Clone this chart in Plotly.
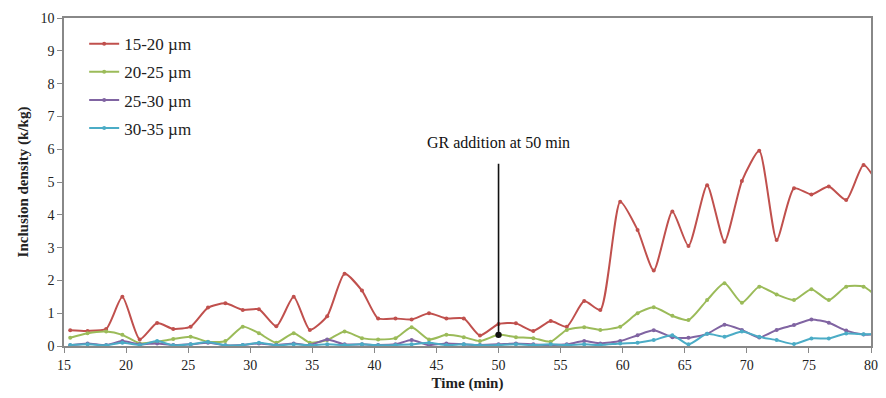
import plotly.graph_objects as go

time_min = [15.5, 16.9, 18.4, 19.7, 21.1, 22.5, 23.8, 25.2, 26.6, 28.0, 29.4, 30.7,
            32.1, 33.5, 34.8, 36.2, 37.6, 39.0, 40.3, 41.7, 43.0, 44.4, 45.8, 47.2,
            48.5, 50.0, 51.4, 52.8, 54.2, 55.5, 56.9, 58.2, 59.8, 61.2, 62.5, 64.0,
            65.3, 66.8, 68.2, 69.6, 71.0, 72.4, 73.8, 75.2, 76.6, 78.0, 79.4, 80.8]

s15_20 = [0.48, 0.46, 0.52, 1.5, 0.2, 0.7, 0.52, 0.59, 1.17, 1.3, 1.1, 1.12,
          0.6, 1.5, 0.49, 0.91, 2.2, 1.69, 0.84, 0.84, 0.81, 1.0, 0.84, 0.84,
          0.32, 0.67, 0.69, 0.46, 0.76, 0.59, 1.37, 1.1, 4.4, 3.54, 2.3, 4.1,
          3.05, 4.9, 3.18, 5.03, 5.95, 3.23, 4.81, 4.62, 4.86, 4.45, 5.52, 4.8]

s20_25 = [0.25, 0.39, 0.44, 0.34, 0.08, 0.13, 0.21, 0.28, 0.13, 0.15, 0.59, 0.39,
          0.1, 0.39, 0.1, 0.18, 0.44, 0.24, 0.2, 0.24, 0.57, 0.2, 0.34, 0.27,
          0.15, 0.34, 0.27, 0.24, 0.13, 0.49, 0.57, 0.49, 0.59, 1.0, 1.18, 0.92,
          0.79, 1.4, 1.91, 1.32, 1.81, 1.57, 1.4, 1.73, 1.4, 1.81, 1.81, 1.4]

s25_30 = [0.02, 0.08, 0.03, 0.15, 0.05, 0.08, 0.03, 0.05, 0.1, 0.02, 0.03, 0.08,
          0.03, 0.08, 0.03, 0.2, 0.05, 0.05, 0.03, 0.05, 0.18, 0.03, 0.08, 0.05,
          0.03, 0.05, 0.08, 0.05, 0.03, 0.05, 0.15, 0.08, 0.15, 0.33, 0.48, 0.27,
          0.25, 0.37, 0.65, 0.49, 0.26, 0.49, 0.64, 0.81, 0.71, 0.47, 0.35, 0.36]

s30_35 = [0.03, 0.05, 0.02, 0.1, 0.03, 0.15, 0.02, 0.05, 0.12, 0.02, 0.03, 0.1,
          0.02, 0.05, 0.02, 0.05, 0.03, 0.05, 0.02, 0.03, 0.05, 0.1, 0.03, 0.05,
          0.02, 0.03, 0.05, 0.03, 0.05, 0.03, 0.05, 0.03, 0.08, 0.1, 0.18, 0.33,
          0.05, 0.37, 0.28, 0.44, 0.28, 0.18, 0.06, 0.23, 0.23, 0.38, 0.36, 0.36]

series_names = ["15-20 µm", "20-25 µm", "25-30 µm", "30-35 µm"]
series_values = [s15_20, s20_25, s25_30, s30_35]
series_colors = ["#C0504D", "#9BBB59", "#8064A2", "#4BACC6"]

x_ticks = [15, 20, 25, 30, 35, 40, 45, 50, 55, 60, 65, 70, 75, 80]
y_ticks = [0, 1, 2, 3, 4, 5, 6, 7, 8, 9, 10]

FONT = "'Times New Roman', 'Liberation Serif', 'DejaVu Serif', serif"

fig = go.Figure()
for name, vals, col in zip(series_names, series_values, series_colors):
    fig.add_trace(go.Scatter(
        x=time_min, y=vals, name=name, mode="lines+markers",
        line=dict(color=col, width=2, shape="spline", smoothing=0.6),
        marker=dict(color=col, size=4),
        legendgroup=name,
    ))

# arrow for GR addition
fig.add_annotation(x=50, y=0.34, ax=50, ay=5.6, xref="x", yref="y",
                   axref="x", ayref="y", text="", showarrow=True,
                   arrowhead=6, arrowsize=1, arrowwidth=1.6, arrowcolor="#111111")
fig.add_annotation(x=50, y=6.2, xref="x", yref="y", text="GR addition at 50 min",
                   showarrow=False, font=dict(family=FONT, size=16, color="#111111"),
                   xanchor="center", yanchor="middle")

axis_common = dict(showline=True, linecolor="#888888", linewidth=1.5, mirror=True,
                   ticks="outside", ticklen=5, tickcolor="#888888",
                   showgrid=False, zeroline=False,
                   tickfont=dict(family=FONT, size=14, color="#222222"))

fig.update_xaxes(range=[15, 80], tickvals=x_ticks,
                 title=dict(text="<b>Time (min)</b>", font=dict(family=FONT, size=15, color="#222222"), standoff=6),
                 **axis_common)
fig.update_yaxes(range=[0, 10], tickvals=y_ticks,
                 title=dict(text="<b>Inclusion density (k/kg)</b>", font=dict(family=FONT, size=15, color="#222222"), standoff=8),
                 **axis_common)

fig.update_layout(
    width=886, height=398,
    margin=dict(l=64, r=8, t=18, b=52),
    paper_bgcolor="white", plot_bgcolor="white",
    font=dict(family=FONT, color="#222222"),
    legend=dict(x=0.025, y=0.975, xanchor="left", yanchor="top",
                bgcolor="rgba(0,0,0,0)", font=dict(family=FONT, size=17, color="#222222"),
                tracegroupgap=3, itemwidth=30),
    showlegend=True,
)

fig.write_html("out.html")
